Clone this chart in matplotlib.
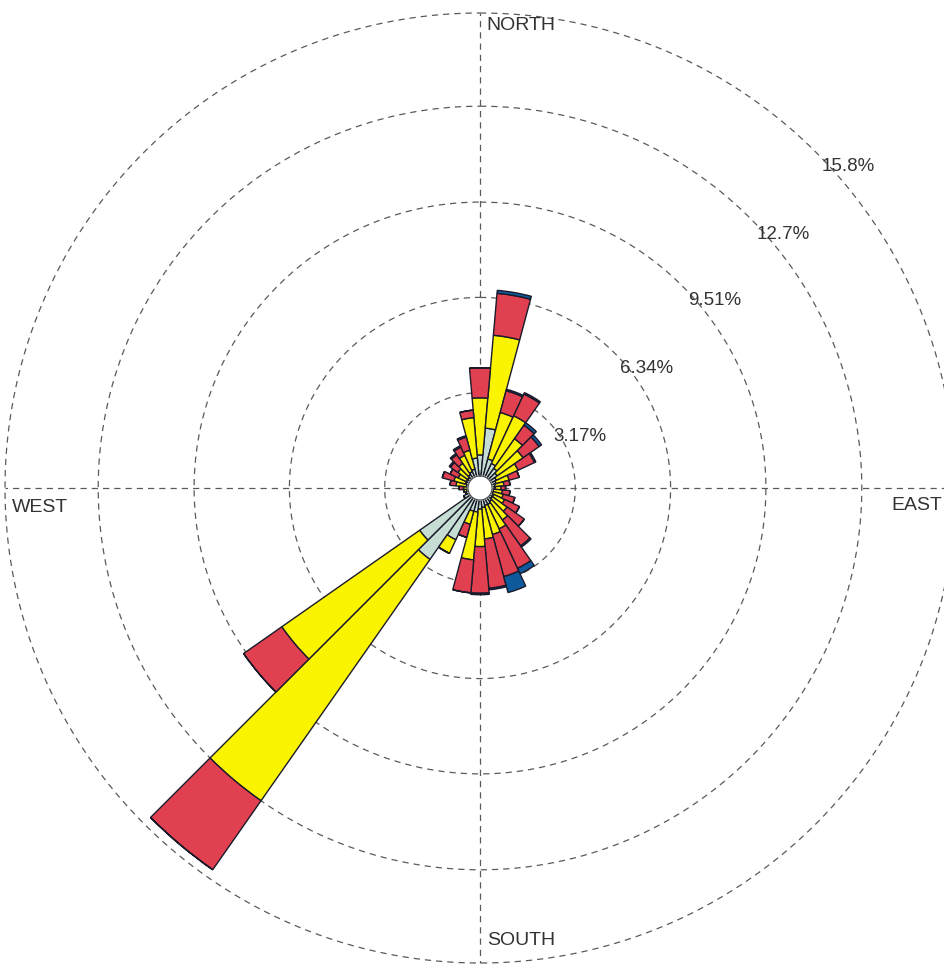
import numpy as np
import matplotlib
matplotlib.use("Agg")
import matplotlib.pyplot as plt

plt.rcParams['font.family'] = ['Liberation Sans', 'DejaVu Sans']

# direction bins (degrees, clockwise from north)
directions = np.arange(0, 360, 10)

# frequency (%) per speed class for each direction bin
freq_low = [1.1, 2.0, 1.0, 0.9, 0.8, 0.7, 0.6, 0.55, 0.5, 0.5, 0.45, 0.45,
            0.5, 0.5, 0.55, 0.6, 0.6, 0.65, 0.7, 0.8, 0.8, 1.9, 2.9, 2.45,
            0.6, 0.5, 0.45, 0.4, 0.45, 0.5, 0.5, 0.5, 0.55, 0.6, 0.65, 1.0]
freq_mid = [1.9, 3.1, 1.6, 1.75, 1.2, 1.05, 0.8, 0.45, 0.3, 0.2, 0.3, 0.35,
            0.4, 0.6, 0.75, 0.9, 1.0, 1.05, 1.25, 1.6, 0.45, 0.5, 9.8, 5.6,
            0.0, 0.0, 0.1, 0.15, 0.35, 0.4, 0.3, 0.4, 0.45, 0.6, 0.65, 1.35]
freq_high = [1.0, 1.4, 0.75, 0.8, 0.55, 0.65, 0.6, 0.35, 0.2, 0.15, 0.25, 0.4,
             0.55, 0.7, 1.05, 1.45, 1.45, 1.65, 1.55, 1.1, 0.45, 0.0, 2.8, 1.55,
             0.0, 0.0, 0.0, 0.15, 0.2, 0.4, 0.3, 0.3, 0.35, 0.3, 0.45, 0.25]
freq_top = [0.0, 0.1, 0.05, 0.05, 0.1, 0.1, 0.05, 0.0, 0.0, 0.0, 0.0, 0.0,
            0.0, 0.0, 0.05, 0.2, 0.55, 0.05, 0.05, 0.0, 0.0, 0.0, 0.0, 0.0,
            0.0, 0.0, 0.0, 0.0, 0.0, 0.0, 0.0, 0.05, 0.05, 0.05, 0.05, 0.0]

class_colors = ['#c6ddd4', '#fbf400', '#e0404f', '#0f5a9c']

ring_values = [3.17, 6.34, 9.51, 12.7, 15.8]
ring_labels = ['3.17%', '6.34%', '9.51%', '12.7%', '15.8%']
ring_label_angle = [55, 49.5, 48, 47.5, 46.8]
compass = ['NORTH', 'EAST', 'SOUTH', 'WEST']

rmax = 15.8
rlim = 16.1
hole = 0.4

W, H = 945, 972
cx, cy = 480, 488
R = 475 * rlim / rmax

fig = plt.figure(figsize=(W / 100, H / 100), dpi=100)
ax = fig.add_axes([(cx - R) / W, (H - cy - R) / H, 2 * R / W, 2 * R / H],
                  projection='polar')
ax.set_theta_zero_location('N')
ax.set_theta_direction(-1)
ax.set_ylim(0, rlim)
ax.grid(False)
ax.set_xticks([])
ax.set_yticks([])
ax.spines['polar'].set_visible(False)
ax.patch.set_alpha(0)

theta = np.deg2rad(directions)
width = np.deg2rad(10)
bottom = np.zeros(len(directions))
for vals, col in zip([freq_low, freq_mid, freq_high, freq_top], class_colors):
    vals = np.array(vals)
    ax.bar(theta, vals, width=width, bottom=bottom, color=col,
           edgecolor='#1a1a2a', linewidth=1.0, zorder=3)
    bottom = bottom + vals

# dashed rings and compass lines
t = np.linspace(0, 2 * np.pi, 500)
grid_kw = dict(color='#5a5a5a', lw=0.9, ls=(0, (5, 4)), zorder=2)
for r in ring_values:
    ax.plot(t, np.full_like(t, r), **grid_kw)
for a in [0, 90, 180, 270]:
    ax.plot([np.deg2rad(a)] * 2, [0, rmax], **grid_kw)

# white centre circle
ax.fill(t, np.full_like(t, hole), color='white', zorder=5)
ax.plot(t, np.full_like(t, hole), color='#444444', lw=0.8, zorder=6)

# ring labels
for r, lab, a in zip(ring_values, ring_labels, ring_label_angle):
    ax.text(np.deg2rad(a), r - 0.2, lab, fontsize=13.5, color='#333333',
            ha='left', va='center', zorder=7)

# compass labels
lab_kw = dict(fontsize=14, color='#333333', va='center')
fig.text(486 / W, 1 - 25 / H, compass[0], ha='left', **lab_kw)
fig.text(942 / W, 1 - 505 / H, compass[1], ha='right', **lab_kw)
fig.text(487 / W, 1 - 940 / H, compass[2], ha='left', **lab_kw)
fig.text(12 / W, 1 - 507 / H, compass[3], ha='left', **lab_kw)

fig.savefig('out.png', dpi=100)
